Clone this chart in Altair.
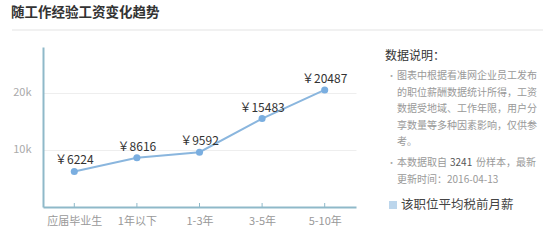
import altair as alt
import pandas as pd

categories = ["应届毕业生", "1年以下", "1-3年", "3-5年", "5-10年"]
salaries = [6224, 8616, 9592, 15483, 20487]
y_ticks = [10000, 20000]

title_text = "随工作经验工资变化趋势"
note_title = "数据说明："
note_lines = [
    "图表中根据看准网企业员工发布",
    "的职位薪酬数据统计所得，工资",
    "数据受地域、工作年限，用户分",
    "享数量等多种因素影响，仅供参",
    "考。",
]
note2_parts = ["本数据取自", "3241", "份样本，最新"]
note2_line2 = "更新时间：2016-04-13"
legend_label = "该职位平均税前月薪"

FONT = "Noto Sans CJK SC"
LEFT, TOP = 43, 47
W, H = 313, 160

df = pd.DataFrame({"cat": categories, "val": salaries})
df["label"] = ["￥" + str(v) for v in salaries]

x_enc = alt.X("cat:N", sort=categories,
              scale=alt.Scale(type="point", padding=0.5),
              axis=alt.Axis(title=None, domainColor="#8fb9c9", domainWidth=2,
                            ticks=False, labelColor="#999", labelFont=FONT,
                            labelFontSize=11, labelPadding=8, labelAngle=0))
y_enc = alt.Y("val:Q", scale=alt.Scale(domain=[0, 28000], nice=False),
              axis=alt.Axis(title=None, values=y_ticks, domainColor="#8fb9c9",
                            domainWidth=2, ticks=False, gridColor="#eeeeee",
                            labelExpr="datum.value/1000 + 'k'", labelColor="#aaa",
                            labelFont=FONT, labelFontSize=11, labelPadding=12))

base = alt.Chart(df)
line = base.mark_line(color="#8ab6de", strokeWidth=2).encode(x=x_enc, y=y_enc)
pts = base.mark_circle(color="#7aaee0", size=50, opacity=1).encode(x=x_enc, y=y_enc)
labels = base.mark_text(font=FONT, fontSize=12, color="#333", dy=-11).encode(
    x=x_enc, y=y_enc, text="label:N")
ticks = base.mark_rule(color="#8fb9c9", strokeWidth=1).encode(
    x=x_enc, y=alt.value(H - 4), y2=alt.value(H))


def txt(text, ax, ay, size=10, color="#999", weight="normal", align="left"):
    d = pd.DataFrame({"t": [text]})
    return alt.Chart(d).mark_text(font=FONT, fontSize=size, color=color,
                                  fontWeight=weight, align=align,
                                  baseline="middle").encode(
        text="t:N", x=alt.value(ax - LEFT), y=alt.value(ay - TOP))


layers = [line, pts, labels, ticks]
layers.append(txt(title_text, 11, 13, size=13.5, color="#333", weight="bold"))
sep = alt.Chart(pd.DataFrame({"a": [0]})).mark_rule(color="#ececec", strokeWidth=1.5).encode(
    x=alt.value(12 - LEFT), x2=alt.value(543 - LEFT), y=alt.value(30 - TOP))
layers.append(sep)
layers.append(txt(note_title, 385, 56, size=12, color="#333"))
ys = [76, 93, 109, 126, 142]
for i, (s, yy) in enumerate(zip(note_lines, ys)):
    layers.append(txt(s, 397, yy, size=10, color="#999"))
layers.append(txt("•", 387, 76, size=9, color="#aaa"))
layers.append(txt("•", 387, 163, size=9, color="#aaa"))
layers.append(txt(note2_parts[0], 397, 163, size=10, color="#999"))
layers.append(txt(note2_parts[1], 450, 163, size=10, color="#555"))
layers.append(txt(note2_parts[2], 476, 163, size=10, color="#999"))
layers.append(txt(note2_line2, 397, 180, size=10, color="#999"))
sq = alt.Chart(pd.DataFrame({"a": [0]})).mark_rect(color="#bcd6ec").encode(
    x=alt.value(389 - LEFT), x2=alt.value(397 - LEFT),
    y=alt.value(201 - TOP), y2=alt.value(209 - TOP))
layers.append(sq)
layers.append(txt(legend_label, 401, 205, size=12.5, color="#444"))

chart = alt.layer(*layers).properties(
    width=W, height=H,
    autosize=alt.AutoSizeParams(type="none"),
    padding={"left": LEFT, "top": TOP, "right": 554 - LEFT - W, "bottom": 248 - TOP - H},
    background="white",
).configure_view(stroke=None)

chart.save("out.html", embed_options={"renderer": "svg", "actions": False})
